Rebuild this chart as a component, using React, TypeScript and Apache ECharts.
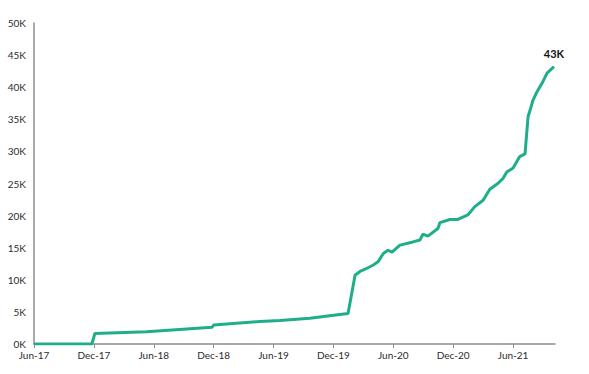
import React, { useEffect, useRef } from "react";
import * as echarts from "echarts";

const dates = [
  "2017-06-01", "2017-11-25", "2017-12-04", "2018-05-10", "2018-11-26", "2018-12-01",
  "2019-04-20", "2019-06-20", "2019-09-20", "2019-11-20", "2020-01-15", "2020-02-06",
  "2020-02-21", "2020-03-12", "2020-04-01", "2020-04-15", "2020-05-01", "2020-05-15",
  "2020-05-27", "2020-06-21", "2020-07-30", "2020-08-21", "2020-08-30", "2020-09-15",
  "2020-10-15", "2020-10-21", "2020-11-21", "2020-12-15", "2021-01-15", "2021-02-06",
  "2021-03-01", "2021-03-21", "2021-04-15", "2021-05-01", "2021-05-12", "2021-06-01",
  "2021-06-21", "2021-07-07", "2021-07-16", "2021-07-22", "2021-08-01", "2021-08-13",
  "2021-08-28", "2021-09-13", "2021-10-04",
];
const values = [
  0, 0, 1650, 1900, 2600, 2950,
  3500, 3650, 4000, 4400, 4750, 10700,
  11300, 11800, 12300, 12800, 14100, 14600,
  14300, 15400, 15900, 16200, 17100, 16800,
  18000, 18900, 19400, 19400, 20100, 21400,
  22400, 24100, 25000, 25800, 26800, 27400,
  29200, 29600, 35400, 36400, 38000, 39300,
  40600, 42200, 43200,
];
const xTickLabels = ["Jun-17", "Dec-17", "Jun-18", "Dec-18", "Jun-19", "Dec-19", "Jun-20", "Dec-20", "Jun-21"];
const yTicks = [0, 5000, 10000, 15000, 20000, 25000, 30000, 35000, 40000, 45000, 50000];

const START_YEAR = 2017;
const START_MONTH = 6;
const AXIS_END = "2021-10-07";

function toMonths(d: string): number {
  const [y, m, day] = d.split("-").map(Number);
  return (y - START_YEAR) * 12 + (m - START_MONTH) + (day - 1) / 30;
}

export default function App() {
  const ref = useRef<HTMLDivElement>(null);
  useEffect(() => {
    if (!ref.current) return;
    const chart = echarts.init(ref.current, undefined, { renderer: "svg" });
    const tickVals = xTickLabels.map((_, i) => i * 6);
    const data = dates.map((d, i) => [toMonths(d), values[i]]);
    const lastPt = data[data.length - 1];
    const axisFont = { fontFamily: "Lato", fontSize: 10, color: "#2b2b2b" };
    chart.setOption({
      animation: false,
      backgroundColor: "#fff",
      grid: { left: 34, right: 34, top: 23, bottom: 30, containLabel: false },
      xAxis: {
        type: "value",
        min: 0,
        max: toMonths(AXIS_END),
        interval: 6,
        splitLine: { show: false },
        axisLine: { lineStyle: { color: "#8c8c8c", width: 1.5 } },
        axisTick: { show: true, length: 4, customValues: tickVals, lineStyle: { color: "#8c8c8c" } },
        axisLabel: {
          ...axisFont,
          customValues: tickVals,
          margin: 6,
          formatter: (v: number) => xTickLabels[Math.round(v / 6)] ?? "",
        },
      },
      yAxis: {
        type: "value",
        min: 0,
        max: 50000,
        interval: 5000,
        splitLine: { show: false },
        axisLine: { show: true, lineStyle: { color: "#8c8c8c", width: 1.5 } },
        axisTick: { show: false },
        axisLabel: {
          ...axisFont,
          margin: 8,
          formatter: (v: number) => (yTicks.includes(v) ? v / 1000 + "K" : ""),
        },
      },
      series: [
        {
          type: "line",
          data,
          showSymbol: false,
          symbol: "none",
          lineStyle: { color: "#1fae8b", width: 3 },
          itemStyle: { color: "#1fae8b" },
          markPoint: {
            symbol: "circle",
            symbolSize: 1,
            itemStyle: { color: "rgba(0,0,0,0)" },
            data: [
              {
                coord: lastPt,
                value: lastPt[1],
                label: {
                  show: true,
                  position: "top",
                  distance: 7,
                  formatter: (p: any) => Math.round(p.value / 1000) + "K",
                  fontFamily: "Lato",
                  fontWeight: "bold",
                  fontSize: 11,
                  color: "#111",
                },
              },
            ],
          },
        },
      ],
    });
    return () => chart.dispose();
  }, []);
  return <div ref={ref} style={{ position: "fixed", left: 0, top: 0, width: 589, height: 374 }} />;
}
